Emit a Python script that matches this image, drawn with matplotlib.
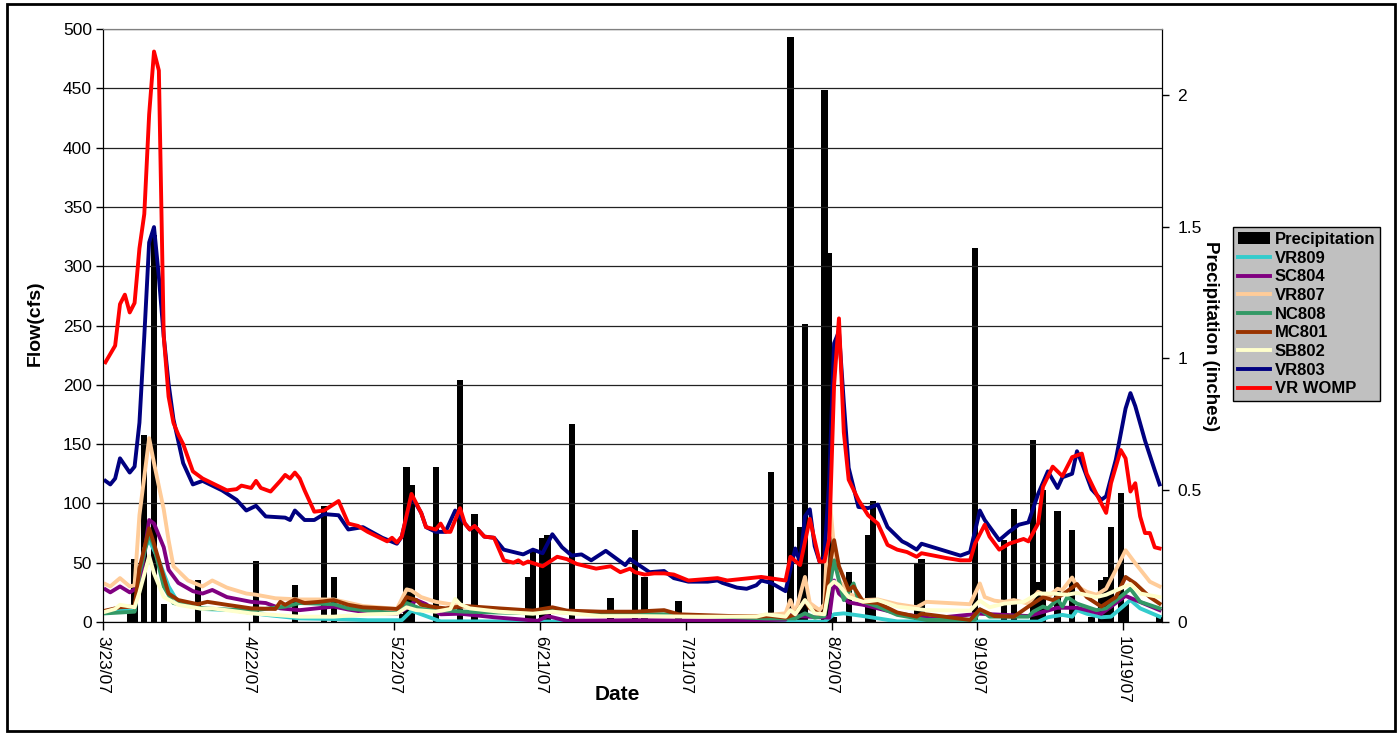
import datetime as dt

import matplotlib

matplotlib.use("Agg")
import matplotlib.pyplot as plt
from matplotlib.patches import Rectangle

plt.rcParams.update({"font.family": ["Liberation Sans", "DejaVu Sans"]})

START = dt.date(2007, 3, 23)
N_DAYS = 218
TICK_DAYS = [0, 30, 60, 90, 120, 150, 180, 210]

# daily precipitation (day offset from 3/23/07, inches)
PRECIP = [
    (5, 0.04), (6, 0.24), (8, 0.71), (10, 1.47), (12, 0.07), (19, 0.16), (31, 0.23),
    (39, 0.14), (45, 0.44), (47, 0.17), (61, 0.03), (62, 0.59), (63, 0.52), (68, 0.59),
    (73, 0.92), (76, 0.41), (87, 0.17), (88, 0.27), (90, 0.32), (91, 0.33), (96, 0.75),
    (104, 0.09), (109, 0.35), (111, 0.17), (118, 0.08), (137, 0.57), (141, 2.22),
    (143, 0.36), (144, 1.13), (148, 2.02), (149, 1.40), (150, 0.02), (153, 0.19),
    (157, 0.33), (158, 0.46), (167, 0.22), (168, 0.24), (179, 1.42), (185, 0.31),
    (187, 0.43), (191, 0.69), (192, 0.15), (193, 0.50), (196, 0.42), (199, 0.35),
    (203, 0.02), (205, 0.16), (206, 0.17), (207, 0.36), (209, 0.49), (210, 0.07),
    (217, 0.02),
]

# flows (day offset, cfs)
VR809 = [
    (0, 9), (6, 10), (8, 62), (9, 69), (11, 52), (13, 30), (15, 16), (20, 11), (26, 10),
    (33, 6), (40, 3), (47, 2.5), (54, 1.5), (61, 1.5), (63, 9.5), (66, 5), (69, 0.5),
    (81, 0.5), (100, 0.3), (148, 0.3), (150, 6.5), (152, 7.3), (156, 5), (163, 0.5),
    (192, 0.3), (194, 4), (197, 6), (199, 4.5), (200, 10), (202, 7), (205, 4), (207, 4.5),
    (211, 18.5), (213, 11.5), (217, 4.5),
]
SC804 = [
    (0, 27.5), (1, 25), (3, 30), (5, 25), (7, 30), (9, 86), (10, 83), (12, 63), (13, 44),
    (15, 33), (18, 26), (20, 24), (22, 27), (25, 21), (30, 17), (33, 16), (36, 11.5),
    (40, 10), (47, 13), (50, 10.5), (54, 8), (60, 7), (62, 11.5), (64, 18.5), (66, 15),
    (69, 6.5), (73, 7), (80, 4), (89, 1), (91, 5), (95, 1), (110, 1.5), (130, 1), (140, 2),
    (141, 10), (142, 5), (149, 3.7), (150, 35), (151, 24), (153, 16.5), (156, 14.5),
    (159, 11.5), (163, 7.3), (170, 3), (180, 7), (190, 5), (196, 12), (200, 12), (205, 7),
    (210, 22), (217, 10),
]
VR807 = [
    (0, 32), (1, 30), (3, 37), (5, 30), (6, 31), (7, 90), (9, 155), (10, 134), (12, 95),
    (13, 69), (14, 47), (17, 35), (20, 30), (22, 35), (25, 29), (29, 24), (31, 23), (35, 20),
    (40, 19), (47, 19), (53, 13.5), (60, 11), (62, 27.5), (63, 26.5), (65, 21), (68, 17),
    (71, 15), (74, 12.5), (81, 11), (88, 8.7), (100, 7.5), (108, 7.3), (122, 5), (134, 5),
    (140, 7.3), (141, 18.5), (142, 7.3), (144, 38), (145, 16), (147, 10), (148, 15),
    (149, 108), (150, 62), (151, 35), (153, 24), (156, 18.5), (159, 19), (163, 15),
    (167, 12.5), (169, 17), (178, 15), (180, 32.5), (181, 21), (183, 18), (185, 17),
    (187, 18.5), (190, 15.5), (192, 25.5), (194, 21), (196, 28), (197, 27), (199, 37.5),
    (200, 30), (202, 25.5), (204, 23), (206, 28), (208, 44), (210, 60.5), (212, 49.5),
    (215, 34), (217, 30),
]
NC808 = [
    (0, 7.3), (6, 8.7), (7, 41), (9, 75), (10, 63.5), (12, 30), (14, 16), (20, 11.5),
    (30, 9.6), (37, 13), (40, 16), (47, 15), (50, 11.5), (54, 9.6), (60, 7.3), (62, 16),
    (65, 11), (74, 8.7), (88, 7.3), (92, 9.6), (102, 7), (109, 6.5), (115, 6.5), (136, 3),
    (142, 3), (144, 7.3), (146, 3.7), (148, 5), (150, 52), (151, 35), (152, 18.5),
    (154, 32.5), (155, 18.5), (159, 13), (163, 6), (169, 1.7), (179, 2), (180, 10.7),
    (182, 4.5), (190, 4.5), (191, 8.7), (193, 13), (194, 11.5), (196, 19), (197, 13),
    (198, 21), (200, 15.5), (204, 10), (206, 11.5), (211, 28), (213, 17), (217, 11.5),
]
MC801 = [
    (0, 9.6), (3, 12.4), (6, 13), (7, 45), (9, 79), (10, 66), (12, 38), (13, 24), (15, 18.5),
    (19, 15), (21, 17), (25, 14.5), (30, 11.5), (35, 11), (36, 17), (37, 14.5), (39, 19),
    (41, 16), (44, 17), (47, 18.5), (50, 14.5), (53, 12.4), (60, 11), (61, 14.5), (62, 21),
    (64, 18.5), (65, 14.5), (68, 12.4), (70, 11.5), (74, 13.5), (81, 11.5), (88, 9.6),
    (92, 12.4), (95, 9.6), (102, 8.7), (109, 8.7), (115, 10), (118, 6.5), (129, 5),
    (134, 4.5), (137, 5), (140, 3.7), (142, 6.5), (144, 18.5), (145, 11.5), (147, 6.5),
    (148, 8), (149, 45), (150, 69), (151, 47), (153, 27), (154, 30), (156, 17), (159, 16),
    (163, 8), (167, 4.5), (168, 7), (178, 1.7), (180, 10.7), (183, 5), (187, 4.5), (190, 13),
    (193, 21), (195, 18.5), (197, 23), (200, 32), (202, 21), (205, 13), (208, 21), (210, 38),
    (212, 32.5), (215, 21), (217, 15.5),
]
SB802 = [
    (0, 8.7), (2, 11), (3, 14.5), (6, 12.4), (7, 25), (9, 55.5), (10, 41), (12, 21),
    (15, 14.5), (20, 11), (22, 11.5), (30, 7.3), (40, 4.5), (47, 4.5), (54, 6.5), (60, 7),
    (62, 12.4), (64, 10), (68, 8.7), (71, 11), (72, 19.5), (73, 15), (75, 11.5), (81, 8.7),
    (88, 7), (92, 8.7), (102, 5), (109, 5), (122, 4.5), (134, 4.5), (136, 6.5), (140, 4.5),
    (141, 10), (142, 6.5), (144, 18.5), (146, 7.3), (148, 6.5), (149, 30), (150, 34),
    (151, 31), (153, 21), (156, 17), (159, 18.5), (163, 13), (169, 10), (178, 9.6), (180, 18),
    (182, 12.4), (185, 15.5), (189, 17), (192, 24), (195, 24), (198, 23), (200, 24.5),
    (204, 21), (206, 23), (211, 32), (213, 24), (217, 21),
]
VR803 = [
    (0, 119), (1, 116), (2, 121), (3, 138), (5, 126), (6, 131), (7, 168), (8, 241), (9, 320),
    (10, 333), (11, 291), (12, 241), (13, 201), (14, 171), (16, 134), (18, 116), (20, 119),
    (24, 111), (27, 103), (29, 94), (31, 98), (33, 89), (37, 88), (38, 86), (39, 94), (41, 86),
    (43, 86), (45, 91), (48, 90), (50, 78), (53, 80), (57, 71), (60, 66), (61, 72), (63, 106),
    (65, 92), (66, 80), (68, 76), (70, 76), (72, 94), (74, 83), (75, 78), (76, 81), (78, 72),
    (80, 71), (82, 61), (86, 57), (88, 61), (90, 58), (92, 74), (94, 63), (96, 56), (98, 57),
    (100, 52), (103, 60), (107, 48), (108, 53), (112, 42), (115, 43), (117, 37), (120, 34),
    (124, 34), (126, 35), (127, 33), (130, 29), (132, 28), (134, 31), (135, 35), (137, 33),
    (140, 26), (142, 62), (143, 50), (144, 89), (145, 95), (146, 64), (147, 51), (148, 55),
    (149, 120), (150, 235), (151, 245), (152, 185), (153, 130), (155, 97), (157, 96),
    (159, 99), (161, 80), (163, 72), (164, 68), (165, 66), (167, 61), (168, 66), (172, 61),
    (176, 56), (178, 59), (180, 94), (181, 86), (184, 69), (186, 76), (188, 82), (190, 84),
    (192, 108), (194, 127), (196, 113), (197, 122), (199, 125), (200, 144), (201, 134),
    (203, 112), (205, 103), (206, 106), (208, 137), (210, 180), (211, 193), (212, 182),
    (214, 153), (216, 128), (217, 116),
]
VR_WOMP = [
    (0, 219), (2, 233), (3, 268), (4, 276), (5, 261), (6, 269), (7, 315), (8, 344), (9, 428),
    (10, 481), (11, 465), (12, 241), (13, 190), (14, 168), (15, 158), (16, 150), (18, 127),
    (20, 121), (21, 119), (25, 111), (27, 112), (28, 115), (30, 113), (31, 119), (32, 113),
    (34, 110), (36, 119), (37, 124), (38, 121), (39, 126), (40, 121), (41, 111), (43, 93),
    (45, 94), (48, 102), (50, 83), (52, 81), (54, 76), (56, 72), (58, 68), (59, 71), (60, 67),
    (61, 72), (63, 108), (65, 92), (66, 80), (68, 78), (69, 83), (70, 76), (71, 76), (73, 96),
    (74, 83), (75, 78), (76, 81), (78, 72), (80, 71), (82, 52), (84, 50), (85, 52), (86, 49),
    (87, 51), (90, 47), (93, 55), (95, 53), (97, 49), (101, 45), (104, 47), (106, 42),
    (108, 45), (109, 42), (111, 40), (113, 41), (115, 41), (117, 40), (120, 35), (126, 37),
    (128, 35), (135, 38), (140, 35), (141, 55), (143, 48), (145, 87), (147, 51), (148, 51),
    (149, 70), (150, 200), (151, 256), (152, 160), (153, 120), (155, 103), (157, 90),
    (159, 83), (161, 65), (163, 61), (165, 59), (167, 55), (168, 58), (173, 54), (176, 52),
    (178, 52), (179, 66), (181, 82), (182, 72), (184, 61), (186, 66), (189, 70), (190, 68),
    (192, 83), (193, 114), (195, 131), (197, 123), (199, 139), (201, 142), (202, 125),
    (204, 108), (206, 92), (207, 117), (209, 145), (210, 138), (211, 110), (212, 117),
    (213, 89), (214, 75), (215, 75), (216, 63), (217, 62),
]

SERIES = [
    ("VR809", VR809, "#33CCCC"),
    ("SC804", SC804, "#800080"),
    ("VR807", VR807, "#FFCC99"),
    ("NC808", NC808, "#339966"),
    ("MC801", MC801, "#993300"),
    ("SB802", SB802, "#FFFFCC"),
    ("VR803", VR803, "#000080"),
    ("VR WOMP", VR_WOMP, "#FF0000"),
]


def date_label(offset: int) -> str:
    d = START + dt.timedelta(days=offset)
    return f"{d.month}/{d.day}/{d.strftime('%y')}"


def main(file_to_save_in: str):
    fig = plt.figure(figsize=(14, 7.34), dpi=100)
    ax = fig.add_axes([103 / 1400, 112 / 734, 1059 / 1400, 593 / 734])
    ax2 = ax.twinx()

    # precipitation bars sit behind the flow lines
    bars = ax2.bar(
        [d + 0.5 for d, _ in PRECIP],
        [v for _, v in PRECIP],
        width=1.3,
        color="black",
        label="Precipitation",
    )
    ax2.set_ylim(0, 2.25)
    ax2.set_yticks([0, 0.5, 1, 1.5, 2])
    ax2.set_yticklabels(["0", "0.5", "1", "1.5", "2"])
    ax2.set_facecolor("#C0C0C0")
    ax.set_zorder(ax2.get_zorder() + 1)
    ax.patch.set_visible(False)

    handles = [bars]
    for name, pts, color in SERIES:
        (line,) = ax.plot(
            [d + 0.5 for d, _ in pts],
            [v for _, v in pts],
            color=color,
            lw=2.8,
            label=name,
            solid_joinstyle="round",
        )
        handles.append(line)

    ax.set_xlim(0, N_DAYS)
    ax.set_ylim(0, 500)
    ax.set_yticks(range(0, 501, 50))
    ax.set_xticks(TICK_DAYS)
    ax.set_xticklabels([date_label(d) for d in TICK_DAYS], rotation=270, ha="center", va="top")
    ax.grid(axis="y", color="#222222", lw=0.9)
    ax.grid(axis="x", visible=False)
    ax.set_axisbelow(True)

    for a in (ax, ax2):
        a.spines["top"].set_color("#808080")
        for s in ("left", "right", "bottom"):
            a.spines[s].set_color("black")
    ax.tick_params(axis="both", direction="out", length=5, width=1, labelsize=12.5, pad=3)
    ax.tick_params(axis="x", length=6, pad=4)
    ax2.tick_params(axis="y", direction="out", length=5, width=1, labelsize=12.5, pad=6)

    fig.text(35 / 1400, 1 - 323 / 734, "Flow(cfs)", rotation=90, ha="center", va="center",
             fontsize=14, fontweight="bold")
    fig.text(617 / 1400, 1 - 695 / 734, "Date", ha="center", va="center",
             fontsize=15, fontweight="bold")
    fig.text(1210 / 1400, 1 - 336 / 734, "Precipitation (inches)", rotation=270,
             ha="center", va="center", fontsize=13.5, fontweight="bold")

    leg = fig.legend(
        handles,
        [h.get_label() for h in handles],
        loc="upper left",
        bbox_to_anchor=(1233 / 1400, 1 - 227 / 734),
        frameon=True,
        fancybox=False,
        facecolor="#C0C0C0",
        edgecolor="black",
        framealpha=1,
        prop={"weight": "bold", "size": 12},
        handlelength=1.9,
        handletextpad=0.3,
        labelspacing=0.22,
        borderpad=0.3,
        borderaxespad=0,
    )
    leg.get_frame().set_linewidth(1)

    fig.patches.append(
        Rectangle((7 / 1400, 3 / 734), 1388 / 1400, 727 / 734, transform=fig.transFigure,
                  fill=False, edgecolor="black", lw=2)
    )

    fig.savefig(file_to_save_in, dpi=100)


if __name__ == "__main__":
    main("out.png")
